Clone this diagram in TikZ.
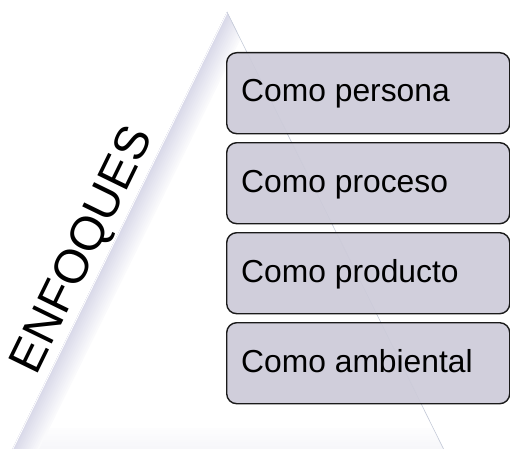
\documentclass[tikz,border=0pt]{standalone}
\usepackage{fontspec}
\setmainfont{Liberation Sans}
\definecolor{boxfill}{HTML}{CDCBD9}
\definecolor{boxline}{HTML}{1A1A1A}
\definecolor{edgelav}{HTML}{D4D4E6}
\definecolor{rightedge}{HTML}{C4CAD8}
\tikzset{
  enfbox/.style={draw=boxline, line width=1.4pt, fill=boxfill, fill opacity=0.93,
    rounded corners=10pt, minimum width=283pt, minimum height=81pt, inner sep=0pt},
  enftext/.style={anchor=base west, inner sep=0pt, font=\fontsize{31.8}{36}\selectfont, text=black},
}
\begin{document}
\begin{tikzpicture}[x=1pt,y=1pt]
\useasboundingbox (0,0) rectangle (510,448);
\coordinate (A) at (227,436);
\coordinate (BL) at (9,-8);
\coordinate (BR) at (447,-8);
% triangle
\fill[white] (A) -- (BL) -- (BR) -- cycle;
\begin{scope}
  \clip (A) -- (BL) -- (BR) -- cycle;
  % bottom bevel
  \foreach \i in {1,...,10}{
    \pgfmathsetmacro{\w}{2*(30-2*\i)}
    \pgfmathsetmacro{\c}{3+\i*1.6}
    \draw[line width=\w pt, color=edgelav!\c!white] (BL) -- (BR);
  }
  % left edge band
  \foreach \i in {1,...,12}{
    \pgfmathsetmacro{\w}{2*(26-2*\i)}
    \pgfmathsetmacro{\c}{4+\i*7}
    \draw[line width=\w pt, color=edgelav!\c!white] (A) -- (BL);
  }
  \draw[line width=1.6pt, white] (A) -- (BL);
\end{scope}
\draw[rightedge, line width=0.6pt] (A) -- (BR);
% boxes
\node[enfbox, anchor=north west] (b1) at (226,396) {};
\node[enfbox, anchor=north west] (b2) at (226,306) {};
\node[enfbox, anchor=north west] (b3) at (226,216) {};
\node[enfbox, anchor=north west] (b4) at (226,126) {};
\node[enftext] (t1) at (241,347) {Como persona};
\node[enftext] (t2) at (241,256) {Como proceso};
\node[enftext] (t3) at (241,166) {Como producto};
\node[enftext] (t4) at (241,76) {Como ambiental};
% title
\node[rotate=64, inner sep=0pt, font=\fontsize{47.5}{52}\selectfont] (enf) at (84,197) {ENFOQUES};
\end{tikzpicture}
\end{document}
